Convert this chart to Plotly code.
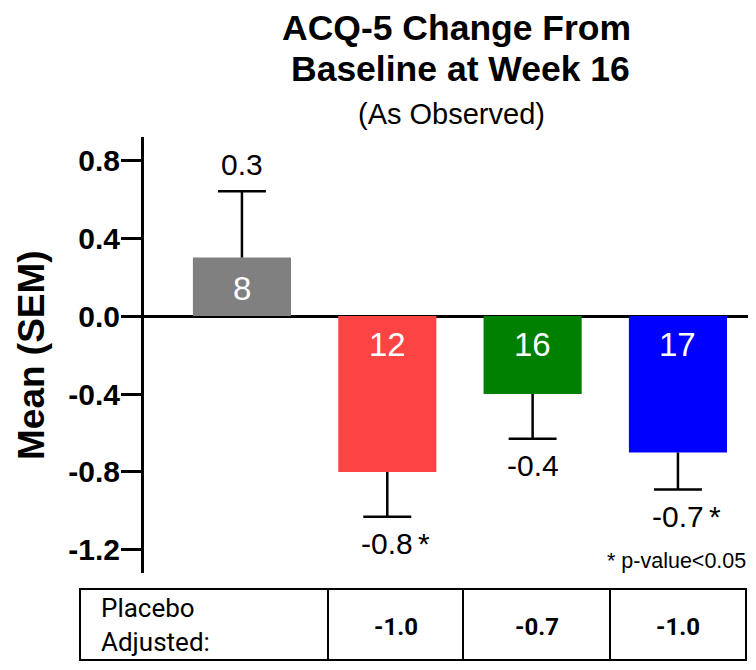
import plotly.graph_objects as go

# ---- data ----
groups = ["Placebo", "Arm A", "Arm B", "Arm C"]
means = [0.3, -0.8, -0.4, -0.7]
sems = [0.34, 0.23, 0.23, 0.19]
n_values = [8, 12, 16, 17]
mean_labels = ["0.3", "-0.8", "-0.4", "-0.7"]
significant = [False, True, False, True]
bar_colors = ["#808080", "#FC4444", "#008000", "#0000FF"]
placebo_adjusted = ["-1.0", "-0.7", "-1.0"]
y_ticks = [-1.2, -0.8, -0.4, 0.0, 0.4, 0.8]
y_tick_labels = ["-1.2", "-0.8", "-0.4", "0.0", "0.4", "0.8"]

FONT = "Liberation Sans, Arial, sans-serif"
TFONT = "Roboto, Liberation Sans, sans-serif"

# the page has the default 8px body margin; keep the figure inside the window
W, H = 740, 654
L, R, T, B = 136, 0, 129, 89
PW, PH = W - L - R, H - T - B
PLOT_LEFT_PAGE, PLOT_BOTTOM_PAGE = 144, 573


def px_x(p):
    return (p - PLOT_LEFT_PAGE) / PW


def px_y(p):
    return (PLOT_BOTTOM_PAGE - p) / PH


xpos = list(range(len(groups)))
bar_w = 0.675
cap = 0.165

fig = go.Figure()
fig.add_trace(go.Bar(x=xpos, y=means, width=bar_w, marker=dict(color=bar_colors, line=dict(width=0)),
                     hoverinfo="skip", showlegend=False))

ex, ey = [], []
ends = []
for x, m, s in zip(xpos, means, sems):
    sgn = 1 if m >= 0 else -1
    e = m + sgn * s
    ends.append(e)
    ex += [x, x, None, x - cap, x + cap, None]
    ey += [m, e, None, e, e, None]
fig.add_trace(go.Scatter(x=ex, y=ey, mode="lines", line=dict(color="black", width=2.5),
                         hoverinfo="skip", showlegend=False))

ann = []
for x, m, e, n, lab, sig in zip(xpos, means, ends, n_values, mean_labels, significant):
    sgn = 1 if m >= 0 else -1
    ann.append(dict(x=x, y=0, xref="x", yref="y", text=str(n), showarrow=False,
                    yshift=sgn * 28, font=dict(family=FONT, size=33, color="white")))
    ann.append(dict(x=x, y=e, xref="x", yref="y", text=lab, showarrow=False,
                    yshift=sgn * 27, font=dict(family=FONT, size=30, color="black")))
    if sig:
        ann.append(dict(x=x, y=e, xref="x", yref="y", text="*", showarrow=False,
                        yshift=sgn * 27, xshift=37, font=dict(family=FONT, size=30, color="black")))

# titles
ann.append(dict(x=px_x(456), y=px_y(28), xref="paper", yref="paper", text="<b>ACQ-5 Change From</b>",
                showarrow=False, xanchor="center", yanchor="middle", borderpad=0,
                font=dict(family=FONT, size=35.5, color="black")))
ann.append(dict(x=px_x(460), y=px_y(68.5), xref="paper", yref="paper", text="<b>Baseline at Week 16</b>",
                showarrow=False, xanchor="center", yanchor="middle", borderpad=0,
                font=dict(family=FONT, size=35.5, color="black")))
ann.append(dict(x=px_x(451), y=px_y(114), xref="paper", yref="paper", text="(As Observed)",
                showarrow=False, xanchor="center", yanchor="middle", borderpad=0,
                font=dict(family=FONT, size=29, color="black")))
# y title
ann.append(dict(x=px_x(31), y=px_y(355), xref="paper", yref="paper", text="<b>Mean (SEM)</b>",
                showarrow=False, textangle=-90, xanchor="center", yanchor="middle",
                font=dict(family=FONT, size=37, color="black")))
# footnote
ann.append(dict(x=px_x(748), y=px_y(561), xref="paper", yref="paper", text="* p-value<0.05",
                showarrow=False, xanchor="right", yanchor="middle", font=dict(family=FONT, size=21.5, color="black")))

# table
cols = [80, 328, 463, 610, 746]
ty0, ty1 = 589, 660
shapes = [dict(type="rect", xref="paper", yref="paper", x0=px_x(cols[0]), x1=px_x(cols[-1]),
               y0=px_y(ty1), y1=px_y(ty0), line=dict(color="black", width=2))]
for c in cols[1:-1]:
    shapes.append(dict(type="line", xref="paper", yref="paper", x0=px_x(c), x1=px_x(c),
                       y0=px_y(ty1), y1=px_y(ty0), line=dict(color="black", width=2)))
ann.append(dict(x=px_x(99), y=px_y(625), xref="paper", yref="paper", text="Placebo<br>Adjusted:",
                showarrow=False, xanchor="left", yanchor="middle", align="left",
                font=dict(family=TFONT, size=26, color="black")))
for i, v in enumerate(placebo_adjusted):
    cx = (cols[i + 1] + cols[i + 2]) / 2
    ann.append(dict(x=px_x(cx), y=px_y(627), xref="paper", yref="paper", text="<b>" + v + "</b>",
                    showarrow=False, xanchor="center", yanchor="middle",
                    font=dict(family=TFONT, size=24, color="black")))

fig.update_layout(
    width=W, height=H, margin=dict(l=L, r=R, t=T, b=B, autoexpand=False),
    paper_bgcolor="white", plot_bgcolor="white",
    annotations=ann, shapes=shapes, showlegend=False,
    xaxis=dict(range=[-0.674, 3.482], visible=False, fixedrange=True),
    yaxis=dict(range=[-1.318, 0.918], tickvals=y_ticks, ticktext=y_tick_labels,
               tickfont=dict(family=FONT, size=30, color="black", weight="bold"),
               showline=True, linecolor="black", linewidth=3,
               ticks="outside", ticklen=20, tickwidth=3, tickcolor="black",
               ticklabelstandoff=-5,
               showgrid=False, zeroline=True, zerolinecolor="black", zerolinewidth=3,
               fixedrange=True),
)

fig.write_html("out.html")
